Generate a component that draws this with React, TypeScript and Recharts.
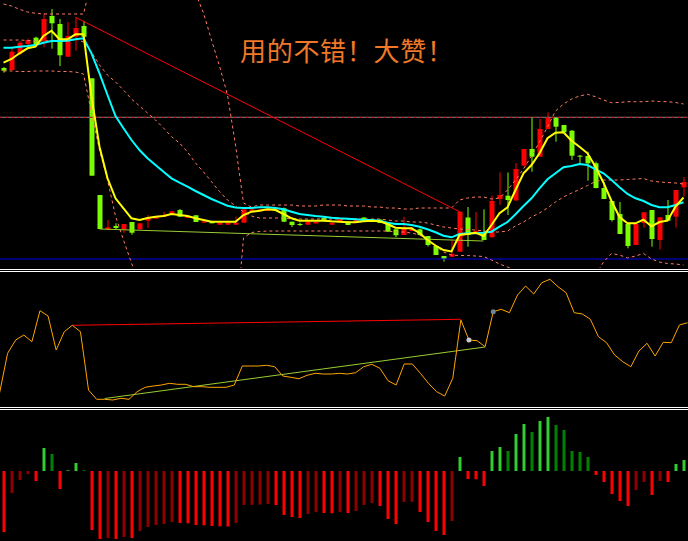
import React from 'react';
import { ComposedChart, Bar, Line, XAxis, YAxis, ReferenceLine, ReferenceDot, Cell } from 'recharts';

// ---------- categories ----------
const bars: number[] = Array.from({ length: 86 }, (_, i) => i);

// ---------- price panel ----------
const openP = [200, 198, 214.7, 224, 230.3, 227.3, 252, 244, 211.3, 231.3,
  242, 189.7, 73, 38.7, 42, 38.7, 46, 38.7, 47.3, 49.3,
  51, 53.5, 58, 50, 52.7, 45.3, 46.7, 43.3, 43.3, 43.3,
  45.3, 56.7, 56.7, 57, 57.5, 59.7, 46.3, 44, 43.3, 44.5,
  50, 43.3, 47, 46.3, 45.5, 50.5, 46, 48.5, 44, 38.7,
  33, 37, 38.7, 32, 22, 12, 11.3, 16.3, 50.5, 35.7,
  34.7, 30.7, 69, 72.3, 67.5, 102.3, 119, 111.3, 139, 150.7,
  143, 137.3, 112.3, 112, 104.7, 80, 67, 54, 44, 23,
  45, 58, 28, 53, 51.3, 80.7];
const closeP = [197.3, 216.3, 225.3, 228, 223, 249, 244.7, 212.7, 232, 240,
  231.3, 92.3, 39, 40.7, 40, 44, 35.3, 44.7, 50.7, 52,
  53, 56.7, 51.3, 52, 46, 46.7, 44.7, 45.3, 45.3, 45.3,
  58.7, 58.7, 58.7, 59, 59.5, 46.3, 43, 43.3, 46.3, 46.3,
  48, 45.3, 49, 43, 48, 48, 49, 45, 36.3, 32.7,
  39.7, 39, 33, 23, 13, 9.3, 14, 56.3, 33, 37,
  28, 67, 73, 68, 99, 119, 111.3, 139, 150.7, 141.3,
  135.7, 112.3, 111.3, 104.7, 80, 69, 48, 34, 22, 44,
  55.7, 29, 50.7, 47.3, 78, 86];
const highP = [201, 221, 227, 229.5, 231.3, 254.7, 259, 249, 246, 250.7,
  247.3, 189.7, 73, 48, 44.7, 44, 46, 44.7, 53, 52,
  56, 56.7, 59, 52, 52.7, 46.7, 46.7, 45.3, 45.3, 51.3,
  58.7, 58.7, 59, 59.5, 60, 60.5, 46.3, 45.5, 46.3, 46.3,
  51, 45.3, 49, 46.3, 50, 50.5, 49, 48.5, 44, 38.7,
  51.3, 41, 39.5, 32, 22, 12, 28, 56.3, 61, 56,
  58.7, 72.5, 95.7, 95.5, 105, 119, 150.5, 149, 155.7, 150.7,
  143, 138, 113, 116.3, 106.3, 86, 67, 66, 44, 44,
  55.7, 58, 50.7, 68, 78, 91];
const lowP = [195.3, 197.5, 213, 223, 222, 220.7, 219.3, 202, 211.3, 217.3,
  231.3, 92.3, 39, 38, 39, 35, 33.3, 38.7, 40, 49.3,
  51, 53.5, 51, 50, 46, 45.3, 44.7, 43.3, 43.3, 43.3,
  45.3, 56.7, 56.7, 57, 57.5, 46, 41, 42, 43.3, 44.5,
  47.5, 43.3, 47, 43, 45.5, 48, 46, 45, 36, 30.7,
  33, 37, 33, 21.5, 13, 6.3, 11, 16.3, 21.3, 34.7,
  28, 30.7, 63, 53, 67.5, 102.3, 96.3, 111.3, 139, 126.3,
  135.7, 108, 104.7, 87.3, 79.7, 69, 46.3, 34, 19.7, 23,
  40, 21.3, 18.5, 47.3, 40.5, 71.3];

const maFast = [205.3, 209, 214.7, 219.7, 221.3, 232, 237.3, 228.7, 228.7, 233.7,
  233.7, 171.3, 121.3, 89.7, 69.7, 59.7, 49.7, 48, 50, 51.3,
  52, 54, 53, 52, 49.7, 48, 46.3, 46.3, 46.3, 46.3,
  53, 56.3, 57.3, 58.7, 58, 54, 49.7, 47.3, 47.3, 47.3,
  47.3, 46.7, 46.3, 45.7, 45.7, 46.7, 47.3, 46.7, 44, 40.3,
  39.7, 39.7, 35, 28, 22.5, 18, 16.5, 33, 34, 35.3,
  32, 43, 54.7, 60.7, 78, 94.7, 103, 114.7, 129.7, 135.3,
  135.7, 127.3, 121.3, 114.7, 101.3, 85.3, 67, 51, 44.7, 44.7,
  48.3, 41.7, 46, 47.3, 61.3, 70.5];
const maSlow = [220.3, 220.3, 221.3, 222, 223, 225.3, 227, 227, 227.3, 228.7,
  229.7, 214.7, 194.7, 173, 152, 139.7, 128, 118, 109.7, 103,
  96.3, 89.7, 85.3, 81.3, 77, 73, 69, 65.7, 62.3, 60.5,
  60, 60, 60.7, 60.7, 60, 58.7, 56.3, 54, 53, 52,
  51.3, 50.3, 49.7, 49.3, 48.7, 48, 48, 47.3, 45.3, 44,
  44, 43, 41.3, 38.7, 35.7, 32.3, 30.7, 34, 34.7, 34.7,
  35.3, 36.3, 41.3, 46, 53.7, 62, 69.7, 79.7, 88.7, 94.7,
  100.7, 102, 104, 103, 98.7, 94.7, 88, 80.7, 74, 69.7,
  67, 63, 60.7, 60.7, 63, 65.7];

const bandUpper: (number | null)[] = [264, 262, 258.7, 256, 254.7, 254, 254, 254, 254, 254,
  254, 287, null, null, null, null, null, null, null, null,
  null, null, null, null, 275, 255, 228, 202, 173, 123,
  65, 61, 63, 63, 63, 63, 63, 62, 62, 62,
  63, 63, 63, 62, 62, 62, 61, 61, 60, 60,
  59, 59, 60, 60, 60, 60, 60, 68, 70, 71,
  71, 69, 70, 78, 88, 99, 112, 126, 141, 157,
  164, 169, 172, 173.7, 171.3, 168, 165.3, 165.5, 166.3, 166.3,
  166.3, 167, 166.5, 166.3, 165.5, 164];
const bandMid = [228, 228, 228, 227.5, 227, 227, 227.5, 228, 228.5, 229,
  226, 216, 203, 193, 186, 178, 169, 162, 155, 148,
  140, 131.3, 125, 116, 105, 96, 86.3, 76.5, 68, 62,
  56, 52, 50, 50, 50, 50, 49, 49, 49, 49,
  49, 49, 49, 49, 49, 49, 49, 49, 48, 47,
  47, 46, 46, 45, 43, 41, 40, 39, 38.5, 38,
  37, 36, 36, 37, 42, 46, 51, 55, 60, 66,
  71, 75, 78.5, 82.5, 86.5, 88, 88, 88, 88.5, 89,
  89.5, 87, 86, 85.5, 85, 84];
const bandLower: (number | null)[] = [197, 197, 196.5, 196.5, 197, 197, 197, 196.5, 196.5, 196,
  194, 155, 118, 88, 52, 28, 5, -17, null, null,
  null, null, null, null, null, null, null, null, null, -62,
  30, 35.5, 36.5, 37, 37, 37, 37, 37, 37, 37,
  37, 37, 37, 37, 37, 37, 37, 37, 37, 36,
  36, 35, 33, 28, 22, 16, 13, 12.5, 12.5, 12,
  11.5, 8, 4, 1, -2, null, null, null, null, null,
  null, null, null, null, -7, 6, 14.5, 13, 10, 12,
  14.5, 9, 6, 4.5, 4, 3];

const priceResist = [{ i: 9, v: 250.7 }, { i: 57, v: 56.3 }];
const priceSupport = [{ i: 12, v: 39 }, { i: 60, v: 27 }];
const priceLevel = 150.7;
const priceFloor = 9;

// ---------- oscillator panel ----------
const osc = [12.7, 52.7, 66, 71, 64.3, 95.3, 90, 56, 74.3, 80.7,
  74.3, 16, 6.7, 6.7, 6, 7.7, 6.7, 14.3, 18.7, 20,
  21, 22.7, 21.7, 21.7, 19.3, 19.3, 18.7, 18.7, 18.7, 21,
  40, 40, 40, 40.7, 39.3, 30, 28.7, 27.3, 30.7, 32.7,
  32, 32, 32.7, 32, 33.3, 39.3, 41.7, 37.7, 25.3, 21,
  42, 42, 32.7, 22.7, 14.3, 10, 27.7, 86, 66, 65.3,
  59.3, 94.3, 96.7, 93.3, 111, 120, 112, 123.3, 126.7, 119.3,
  113.3, 93.3, 92, 86.7, 69.3, 63.3, 51, 44.3, 39.3, 55,
  62.7, 50, 63.7, 63.3, 81, 83.3];
const oscResist = [{ i: 9, v: 80.7 }, { i: 57, v: 86.7 }];
const oscSupport = [{ i: 13, v: 7.5 }, { i: 60, v: 59 }];
const oscMarks = [{ i: 58, color: '#C8C8C8' }, { i: 61, color: '#6E8696' }];

// ---------- histogram panel ----------
const hist = [-61, -22, -9, -3, -10, 23, 17, -18, 0.7, 8,
  0.7, -59, -68, -67, -68, -66, -67, -60, -56, -54,
  -53, -51, -52, -52.3, -54, -54.3, -55, -55.3, -55.5, -52,
  -34, -33.8, -33.6, -33, -34, -44, -46, -47, -43, -41,
  -42, -42.3, -41, -42, -40, -34, -32, -35, -48, -53,
  -31, -30.8, -41, -51, -60, -64, -50, 14, -8, -8.3,
  -15, 20, 24, 20, 37, 47, 39, 50, 54, 46,
  41, 20, 19, 14, -4, -11, -23, -30, -35, -19,
  -11, -24, -10, -11, 7, 11];

// ---------- caption ----------
const caption = ['用', '的', '不', '错', '！', '大', '赞', '！'];

const pick = (arr: { i: number; v: number }[], i: number) => {
  const f = arr.find((p) => p.i === i);
  return f ? f.v : null;
};

const topData = bars.map((i) => ({
  i,
  open: openP[i], close: closeP[i], high: highP[i], low: lowP[i],
  range: [lowP[i], highP[i]],
  fast: maFast[i], slow: maSlow[i],
  upper: bandUpper[i], mid: bandMid[i], lower: bandLower[i],
  resist: pick(priceResist, i), support: pick(priceSupport, i),
}));
const midData = bars.map((i) => ({
  i, osc: osc[i], resist: pick(oscResist, i), support: pick(oscSupport, i),
}));
const histData = bars.map((i) => ({ i, h: hist[i] }));
const histColor = (i: number) => {
  const v = hist[i];
  const prev = i > 0 ? hist[i - 1] : 0;
  if (v < 0) return v < prev ? '#FF0000' : '#8B0000';
  return v > prev ? '#32CD32' : '#008000';
};

const Candle = (props: any) => {
  const { x, y, width, height, payload } = props;
  if (x == null || !payload) return null;
  const { open, close, high, low } = payload;
  const h = Math.abs(height);
  const top = height >= 0 ? y : y + height;
  const k = high > low ? h / (high - low) : 0;
  const py = (v: number) => top + (high - v) * k;
  const cx = x + width / 2;
  const color = close >= open ? '#FF0000' : '#7CFC00';
  const bTop = py(Math.max(open, close));
  const bBot = py(Math.min(open, close));
  return (
    <g>
      <line x1={cx} x2={cx} y1={top} y2={top + h} stroke={color} strokeWidth={1} />
      <rect x={cx - 2.5} y={bTop} width={5} height={Math.max(1, bBot - bTop)} fill={color} />
    </g>
  );
};

const M = { top: 0, right: 0.5, bottom: 0, left: -0.5 };
const SALMON = '#FF7A62';

export default function App() {
  return (
    <div style={{ position: 'absolute', left: 0, top: 0, width: 688, height: 541, background: '#000', overflow: 'hidden' }}>
      <div style={{ position: 'absolute', left: 0, top: 0 }}>
        <ComposedChart width={688} height={268} data={topData} margin={M}>
          <XAxis dataKey="i" hide />
          <YAxis hide domain={[0, 268]} allowDataOverflow />
          <ReferenceLine y={priceLevel} stroke="#7A8A9A" strokeWidth={1} />
          <ReferenceLine y={priceLevel} stroke="#E00000" strokeWidth={1} strokeDasharray="3 3" />
          <ReferenceLine y={priceFloor} stroke="#0000EE" strokeWidth={1} />
          <Line dataKey="upper" stroke={SALMON} strokeWidth={1} strokeDasharray="3 3" dot={false} activeDot={false} isAnimationActive={false} />
          <Line dataKey="mid" stroke={SALMON} strokeWidth={1} strokeDasharray="3 3" dot={false} activeDot={false} isAnimationActive={false} />
          <Line dataKey="lower" stroke={SALMON} strokeWidth={1} strokeDasharray="3 3" dot={false} activeDot={false} isAnimationActive={false} />
          <Line dataKey="support" stroke="#9ACD32" strokeWidth={1} dot={false} activeDot={false} connectNulls isAnimationActive={false} />
          <Bar dataKey="range" barSize={5} shape={Candle} isAnimationActive={false} />
          <Line dataKey="slow" stroke="#00FFFF" strokeWidth={2} dot={false} activeDot={false} isAnimationActive={false} />
          <Line dataKey="fast" stroke="#FFFF00" strokeWidth={2} dot={false} activeDot={false} isAnimationActive={false} />
          <Line dataKey="resist" stroke="#FF0000" strokeWidth={1} dot={false} activeDot={false} connectNulls isAnimationActive={false} />
        </ComposedChart>
      </div>
      <svg width={688} height={268} style={{ position: 'absolute', left: 0, top: 0, pointerEvents: 'none' }}>
        <text y={61} fill="#F07828" fontSize={26} fontFamily="'Noto Sans CJK SC', sans-serif">
          {caption.map((ch, k) => (
            <tspan key={k} x={240 + 26.7 * k}>{ch}</tspan>
          ))}
        </text>
      </svg>
      <div style={{ position: 'absolute', left: 0, top: 269, width: 688, height: 1, background: '#FFFFFF' }} />
      <div style={{ position: 'absolute', left: 0, top: 271, width: 688, height: 1, background: '#FFFFFF' }} />
      <div style={{ position: 'absolute', left: 0, top: 272 }}>
        <ComposedChart width={688} height={134} data={midData} margin={M}>
          <XAxis dataKey="i" hide />
          <YAxis hide domain={[0, 134]} allowDataOverflow />
          <Line dataKey="resist" stroke="#FF0000" strokeWidth={1} dot={false} activeDot={false} connectNulls isAnimationActive={false} />
          <Line dataKey="support" stroke="#9ACD32" strokeWidth={1} dot={false} activeDot={false} connectNulls isAnimationActive={false} />
          <Line dataKey="osc" stroke="#FFA500" strokeWidth={1} dot={false} activeDot={false} isAnimationActive={false} />
          {oscMarks.map((m) => (
            <ReferenceDot key={m.i} x={m.i} y={osc[m.i]} r={2.5} fill={m.color} stroke="none" />
          ))}
        </ComposedChart>
      </div>
      <div style={{ position: 'absolute', left: 0, top: 407, width: 688, height: 1, background: '#FFFFFF' }} />
      <div style={{ position: 'absolute', left: 0, top: 409, width: 688, height: 1, background: '#FFFFFF' }} />
      <div style={{ position: 'absolute', left: 0, top: 410 }}>
        <ComposedChart width={688} height={131} data={histData} margin={M}>
          <XAxis dataKey="i" hide />
          <YAxis hide domain={[-70, 61]} allowDataOverflow />
          <Bar dataKey="h" barSize={3} isAnimationActive={false}>
            {histData.map((d) => (
              <Cell key={d.i} fill={histColor(d.i)} />
            ))}
          </Bar>
        </ComposedChart>
      </div>
    </div>
  );
}
